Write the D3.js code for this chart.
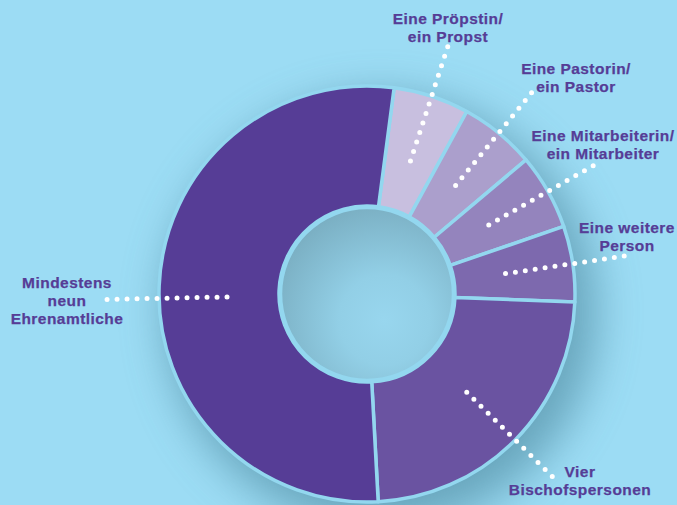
<!DOCTYPE html>
<html>
<head>
<meta charset="utf-8">
<script src="https://cdn.jsdelivr.net/npm/d3@7/dist/d3.min.js"></script>
<style>
  html, body { margin: 0; padding: 0; background: #9cdcf4; }
  svg { display: block; }
</style>
</head>
<body>
<svg id="chart" width="677" height="505"></svg>
<script>
// ---- data ----
const categories = [
  "Eine Pröpstin/ein Propst",
  "Eine Pastorin/ein Pastor",
  "Eine Mitarbeiterin/ein Mitarbeiter",
  "Eine weitere Person",
  "Vier Bischofspersonen",
  "Mindestens neun Ehrenamtliche"
];
const labelLines = [
  ["Eine Pröpstin/", "ein Propst"],
  ["Eine Pastorin/", "ein Pastor"],
  ["Eine Mitarbeiterin/", "ein Mitarbeiter"],
  ["Eine weitere", "Person"],
  ["Vier", "Bischofspersonen"],
  ["Mindestens", "neun", "Ehrenamtliche"]
];
const values = [1, 1, 1, 1, 4, 9];
const colors = ["#c8bfdf", "#ab9fcc", "#9484bd", "#7d69ae", "#6a53a1", "#563d96"];

// ---- layout ----
const W = 677, H = 505;
const cx = 367, cy = 294;
const rOuter = 208, rInner = 88;
const startDeg = 7.5;
const leaderR0 = 140, leaderR1 = 261;
// optional leader angle override (degrees, clockwise from top)
const leaderAngle = [null, null, null, null, null, 268.8];
// label anchor: [x center, baseline of first line]
const labelPos = [[448, 24], [576, 74], [603, 141], [627, 233], [580, 477], [67, 288]];
const lineH = 18;

const svg = d3.select("#chart");
const defs = svg.append("defs");

const shadow = defs.append("filter").attr("id", "shadow")
  .attr("x", "-50%").attr("y", "-50%").attr("width", "200%").attr("height", "200%");
shadow.append("feGaussianBlur").attr("stdDeviation", 22);

const hole = defs.append("radialGradient").attr("id", "hole")
  .attr("cx", "0.6").attr("cy", "0.65").attr("r", "0.75");
hole.append("stop").attr("offset", "0").attr("stop-color", "#98d6ee");
hole.append("stop").attr("offset", "0.35").attr("stop-color", "#92cfe6");
hole.append("stop").attr("offset", "1").attr("stop-color", "#76a9bc");

svg.append("rect").attr("width", W).attr("height", H).attr("fill", "#9cdcf4");

const g = svg.append("g").attr("transform", `translate(${cx},${cy})`);

// shadow
g.append("circle").attr("cx", 14).attr("cy", 18).attr("r", rOuter + 8)
  .attr("fill", "#48859b").attr("opacity", 0.62).attr("filter", "url(#shadow)");

const s0 = startDeg * Math.PI / 180;
const pie = d3.pie().sort(null).value(d => d).startAngle(s0).endAngle(s0 + 2 * Math.PI);
const arcs = pie(values);
const arc = d3.arc().innerRadius(rInner).outerRadius(rOuter);

g.selectAll("path.slice").data(arcs).join("path")
  .attr("class", "slice")
  .attr("d", arc)
  .attr("fill", (d, i) => colors[i])
  .attr("stroke", "#93d7ef")
  .attr("stroke-width", 3.5)
  .attr("stroke-linejoin", "round");

g.append("circle").attr("r", rInner - 1.5).attr("fill", "url(#hole)")
  .attr("stroke", "#93d7ef").attr("stroke-width", 3.5);

// leaders
const polar = (a, r) => [r * Math.sin(a), -r * Math.cos(a)];
g.selectAll("line.leader").data(arcs).join("line")
  .attr("class", "leader")
  .each(function (d, i) {
    const a = leaderAngle[i] != null ? leaderAngle[i] * Math.PI / 180 : (d.startAngle + d.endAngle) / 2;
    const p0 = polar(a, leaderR0), p1 = polar(a, leaderR1);
    d3.select(this).attr("x1", p0[0]).attr("y1", p0[1]).attr("x2", p1[0]).attr("y2", p1[1]);
  })
  .attr("stroke", "#ffffff")
  .attr("stroke-width", 5)
  .attr("stroke-linecap", "round")
  .attr("stroke-dasharray", "0 10");

// labels
const labels = svg.selectAll("text.lbl").data(labelLines).join("text")
  .attr("class", "lbl")
  .attr("x", (d, i) => labelPos[i][0])
  .attr("y", (d, i) => labelPos[i][1])
  .attr("text-anchor", "middle")
  .attr("font-family", "'Liberation Sans', Arial, Helvetica, sans-serif")
  .attr("font-weight", "bold")
  .attr("font-size", 15.5)
  .attr("letter-spacing", 0.45)
  .attr("fill", "#563d96")
  .attr("stroke", "#563d96")
  .attr("stroke-width", 0.25);
labels.each(function (lines, i) {
  d3.select(this).selectAll("tspan").data(lines).join("tspan")
    .attr("x", labelPos[i][0])
    .attr("dy", (l, j) => j === 0 ? 0 : lineH)
    .text(l => l);
});
</script>
</body>
</html>
